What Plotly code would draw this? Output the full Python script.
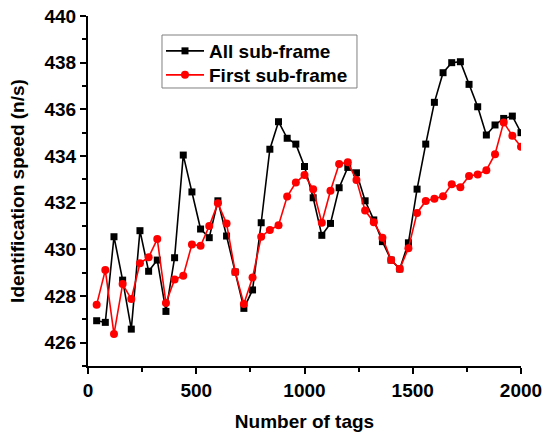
import plotly.graph_objects as go

tags = [40 * i for i in range(1, 51)]

all_sub = [426.94, 426.87, 430.54, 428.68, 426.58, 430.80, 429.06, 429.54, 427.34, 429.64,
           434.04, 432.46, 430.87, 430.50, 432.08, 430.57, 429.03, 427.47, 428.26, 431.14,
           434.29, 435.47, 434.76, 434.51, 433.55, 432.21, 430.60, 431.11, 432.64, 433.51,
           433.28, 432.08, 431.26, 430.33, 429.54, 429.16, 430.28, 432.58, 434.51, 436.30,
           437.57, 438.00, 438.04, 437.07, 436.11, 434.90, 435.33, 435.61, 435.71, 435.00]

first_sub = [427.63, 429.11, 426.37, 428.51, 427.87, 429.40, 429.66, 430.44, 427.70, 428.71,
             428.87, 430.21, 430.15, 431.00, 431.97, 431.11, 429.03, 427.66, 428.79, 430.54,
             430.83, 431.03, 432.26, 432.86, 433.19, 432.57, 431.14, 432.51, 433.66, 433.73,
             432.97, 431.66, 431.16, 430.50, 429.54, 429.16, 430.05, 431.56, 432.07, 432.17,
             432.27, 432.79, 432.66, 433.14, 433.21, 433.39, 434.08, 435.44, 434.87, 434.40]

FONT = "Liberation Sans, Arial, sans-serif"
LFONT = dict(family=FONT, size=19, color="black", weight="bold")

fig = go.Figure()
fig.add_trace(go.Scatter(
    x=tags, y=all_sub, mode="lines+markers", name="All sub-frame",
    line=dict(color="black", width=1.6),
    marker=dict(symbol="square", size=7, color="black"),
    legend="legend",
))
fig.add_trace(go.Scatter(
    x=tags, y=first_sub, mode="lines+markers", name="First sub-frame",
    line=dict(color="#ff0000", width=1.6),
    marker=dict(symbol="circle", size=8, color="#ff0000"),
    legend="legend2",
))

axis_common = dict(
    showline=True, linecolor="black", linewidth=2,
    ticks="outside", ticklen=6, tickwidth=2, tickcolor="black",
    showgrid=False, zeroline=False, mirror=False, automargin=False,
    tickfont=dict(family=FONT, size=19, color="black", weight="bold"),
)

fig.update_xaxes(
    range=[0, 2000], tickmode="linear", tick0=0, dtick=500,
    minor=dict(ticks="outside", dtick=250, ticklen=4, tickwidth=2, tickcolor="black", showgrid=False),
    title=dict(text="Number of tags", font=dict(family=FONT, size=19, color="black", weight="bold")),
    **axis_common,
)
fig.update_yaxes(
    range=[425, 440], tickmode="linear", tick0=426, dtick=2,
    minor=dict(ticks="outside", dtick=1, tick0=425, ticklen=4, tickwidth=2, tickcolor="black", showgrid=False),
    title=dict(text="Identification speed (n/s)", font=dict(family=FONT, size=19, color="black", weight="bold")),
    **axis_common,
)

leg_common = dict(
    xanchor="left", yanchor="middle", bgcolor="rgba(0,0,0,0)",
    borderwidth=0, font=LFONT, itemwidth=38,
)

fig.update_layout(
    width=544, height=433,
    margin=dict(l=88, r=23, t=16, b=67),
    paper_bgcolor="white", plot_bgcolor="white",
    showlegend=True,
    legend=dict(x=0.1686, y=0.900, **leg_common),
    legend2=dict(x=0.1686, y=0.8314, **leg_common),
    shapes=[dict(
        type="rect", xref="paper", yref="paper",
        x0=0.1709, x1=0.6212, y0=0.7943, y1=0.9457,
        line=dict(color="#808080", width=1), fillcolor="white", layer="below",
    )],
)

fig.write_html("out.html")
